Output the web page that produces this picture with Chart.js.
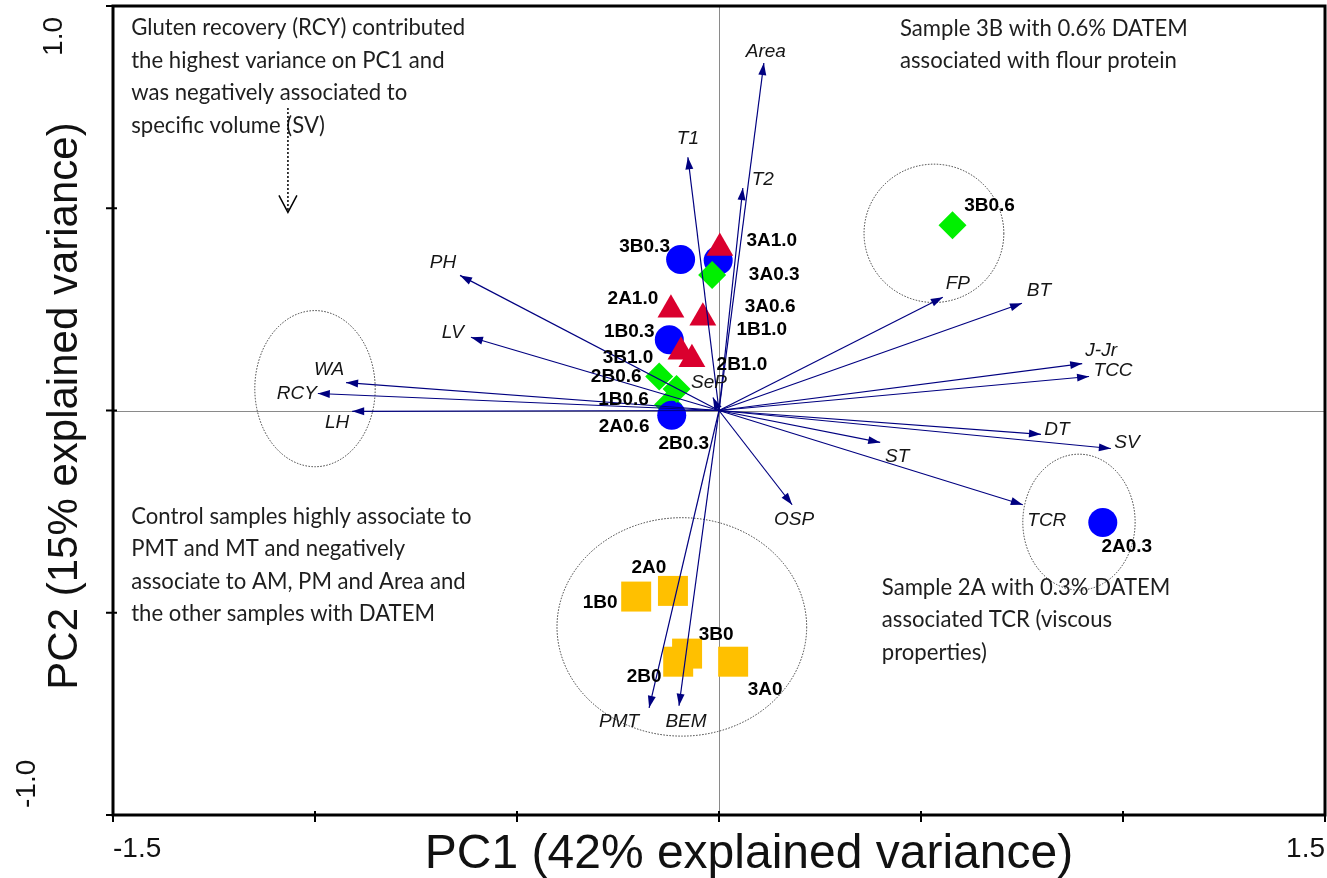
<!DOCTYPE html>
<html>
<head>
<meta charset="utf-8">
<title>PCA biplot – DATEM samples</title>
<style>
  html, body { margin: 0; padding: 0; background: #fff; }
  #wrap { width: 1327px; height: 878px; }
  canvas { display: block; }
</style>
<script src="https://cdn.jsdelivr.net/npm/chart.js@4.4.1/dist/chart.umd.min.js"></script>
</head>
<body>
<div id="wrap"><canvas id="biplot" width="1327" height="878"></canvas></div>
<script>
// ---------- Sample scores (PC1, PC2), one set per DATEM level ----------
const ctrlSamples = ['1B0', '2A0', '3B0', '2B0', '3A0'];
const ctrlPC1 = [-0.205, -0.114, -0.079, -0.101, 0.035];
const ctrlPC2 = [-0.460, -0.446, -0.601, -0.621, -0.621];

const datem03Samples = ['1B0.3', '2A0.3', '2B0.3', '3A0.3', '3B0.3'];
const datem03PC1 = [-0.123, 0.950, -0.117, -0.002, -0.095];
const datem03PC2 = [0.175, -0.277, -0.012, 0.371, 0.373];

const datem06Samples = ['1B0.6', '2A0.6', '2B0.6', '3A0.6', '3B0.6'];
const datem06PC1 = [-0.105, -0.126, -0.148, -0.017, 0.578];
const datem06PC2 = [0.053, 0.015, 0.084, 0.335, 0.458];

const datem10Samples = ['1B1.0', '2A1.0', '2B1.0', '3A1.0', '3B1.0'];
const datem10PC1 = [-0.040, -0.119, -0.067, 0.002, -0.094];
const datem10PC2 = [0.229, 0.249, 0.127, 0.402, 0.145];

// ---------- Variable loadings ----------
const variables = ['Area', 'T1', 'T2', 'PH', 'LV', 'WA', 'RCY', 'LH', 'SeP', 'FP',
                   'BT', 'J-Jr', 'TCC', 'DT', 'SV', 'ST', 'OSP', 'TCR', 'PMT', 'BEM'];
const loadPC1 = [0.111, -0.077, 0.059, -0.641, -0.614, -0.923, -0.993, -0.908, -0.015, 0.554,
                 0.750, 0.899, 0.916, 0.797, 0.970, 0.399, 0.181, 0.752, -0.173, -0.099];
const loadPC2 = [0.859, 0.626, 0.550, 0.334, 0.181, 0.069, 0.042, -0.002, 0.032, 0.280,
                 0.265, 0.116, 0.084, -0.059, -0.094, -0.079, -0.233, -0.233, -0.735, -0.730];

// ---------- Axes ----------
const xTicks = [-1.5, -1.0, -0.5, 0, 0.5, 1.0, 1.5];
const yTicks = [-1.0, -0.5, 0, 0.5, 1.0];
const xEndLabels = ['-1.5', '1.5'];
const yEndLabels = ['-1.0', '1.0'];
const xTitle = 'PC1 (42% explained variance)';
const yTitle = 'PC2 (15% explained variance)';

// ---------- Cluster outlines: centre and radii in score units ----------
const clusterCx = [-1.000, -0.092, 0.532, 0.891];
const clusterCy = [0.054, -0.535, 0.438, -0.276];
const clusterRx = [0.149, 0.309, 0.173, 0.139];
const clusterRy = [0.193, 0.270, 0.171, 0.168];

// ---------- Annotation texts ----------
const notes = [
  { x: -1.455, y: 0.928, lines: ['Gluten recovery (RCY) contributed', 'the highest variance on PC1 and',
                                 'was negatively associated to', 'specific volume (SV)'] },
  { x: 0.448, y: 0.926, lines: ['Sample 3B with 0.6% DATEM', 'associated with flour protein'] },
  { x: -1.455, y: -0.280, lines: ['Control samples highly associate to', 'PMT and MT and negatively',
                                  'associate to AM, PM and Area and', 'the other samples with DATEM'] },
  { x: 0.403, y: -0.455, lines: ['Sample 2A with 0.3% DATEM', 'associated TCR (viscous', 'properties)'] }
];

// ---------- Label placement (pixel offsets from the mark) ----------
const sampleLabelOffset = {
  '3B0.3': [-36, -14], '3A0.3': [56, 13], '3A1.0': [52, -9], '3A0.6': [58, 30], '1B1.0': [59, 10],
  '2B1.0': [50, 4], '2A1.0': [-38, -13], '1B0.3': [-40, -10], '3B1.0': [-53, 4], '2B0.6': [-43, -1],
  '1B0.6': [-53, 9], '2A0.6': [-44, 21], '2B0.3': [12, 27], '3B0.6': [37, -21], '2A0.3': [24, 23],
  '2A0': [-24, -25], '1B0': [-36, 5], '3B0': [29, -20], '2B0': [-34, 13], '3A0': [32, 26]
};
const varLabelOffset = {
  'Area': [2, -13], 'T1': [0, -20], 'T2': [20, -10], 'PH': [-17, -14], 'LV': [-18, -6],
  'WA': [-17, -14], 'RCY': [-21, -1], 'LH': [-15, 10], 'SeP': [-4, -16], 'FP': [15, -15],
  'BT': [17, -14], 'J-Jr': [19, -14], 'TCC': [24, -7], 'DT': [16, -6], 'SV': [16, -7],
  'ST': [17, 13], 'OSP': [2, 13], 'TCR': [24, 14], 'PMT': [-30, 12], 'BEM': [7, 14]
};

// marker symbol per DATEM level
const groups = [
  { names: ctrlSamples,    pc1: ctrlPC1,    pc2: ctrlPC2,    style: 'rect',     radius: 21.2, color: '#FFC000' },
  { names: datem03Samples, pc1: datem03PC1, pc2: datem03PC2, style: 'circle',   radius: 14.5, color: '#0000FF' },
  { names: datem06Samples, pc1: datem06PC1, pc2: datem06PC2, style: 'rectRot',  radius: 14,   color: '#00F000' },
  { names: datem10Samples, pc1: datem10PC1, pc2: datem10PC2, style: 'triangle', radius: 15.5, color: '#DA002E' }
];
// plotting sequence of the samples (later ones sit on top)
const plotSequence = ['1B0', '2A0', '2B0', '3B0', '3A0', '2A0.6',
                      '1B0.3', '2A0.3', '2B0.3', '3A0.3', '3B0.3',
                      '1B0.6', '2B0.6', '3A0.6', '3B0.6',
                      '1B1.0', '2A1.0', '2B1.0', '3A1.0', '3B1.0'];

const NAVY = '#000080';
const SANS = '"Liberation Sans", Arial, Helvetica, sans-serif';
const NOTE_FAMILY = 'Lato, "Open Sans", sans-serif';

// one marker record per sample, taken from its group arrays
const markerBySample = {};
groups.forEach(g => g.names.forEach((n, i) => {
  markerBySample[n] = { x: g.pc1[i], y: g.pc2[i], style: g.style, radius: g.radius, color: g.color };
}));
const markers = plotSequence.map(n => markerBySample[n]);

// loading vectors: one line from the origin to each loading
const vectorSets = variables.map((name, i) => ({
  label: name,
  data: [{ x: 0, y: 0 }, { x: loadPC1[i], y: loadPC2[i] }],
  showLine: true,
  borderColor: NAVY,
  borderWidth: 1.2,
  pointRadius: 0,
  order: 0
}));

const sampleSet = {
  label: 'Samples',
  data: markers.map(m => ({ x: m.x, y: m.y })),
  pointStyle: markers.map(m => m.style),
  pointRadius: markers.map(m => m.radius),
  pointHoverRadius: markers.map(m => m.radius),
  backgroundColor: markers.map(m => m.color),
  borderWidth: 0,
  showLine: false,
  order: 1
};

// text with its cap-height centred on (x, y)
function centredText(ctx, text, x, y, size) {
  ctx.fillText(text, x, y + size * 0.36);
}

const biplotDecor = {
  id: 'biplotDecor',
  beforeDatasetsDraw(chart) {
    const { ctx, chartArea: a, scales: { x, y } } = chart;
    ctx.save();
    // zero reference lines
    const x0 = Math.round(x.getPixelForValue(0)) + 0.5;
    const y0 = Math.round(y.getPixelForValue(0)) + 0.5;
    ctx.strokeStyle = '#8a8a8a';
    ctx.lineWidth = 1;
    ctx.beginPath();
    ctx.moveTo(x0, a.top); ctx.lineTo(x0, a.bottom);
    ctx.moveTo(a.left, y0); ctx.lineTo(a.right, y0);
    ctx.stroke();
    // dotted cluster outlines
    ctx.strokeStyle = '#3a3a3a';
    ctx.lineWidth = 1;
    ctx.setLineDash([1.5, 1.5]);
    clusterCx.forEach((cx, i) => {
      const px = x.getPixelForValue(cx), py = y.getPixelForValue(clusterCy[i]);
      const rx = Math.abs(x.getPixelForValue(cx + clusterRx[i]) - px);
      const ry = Math.abs(y.getPixelForValue(clusterCy[i] + clusterRy[i]) - py);
      ctx.beginPath();
      ctx.ellipse(px, py, rx, ry, 0, 0, Math.PI * 2);
      ctx.stroke();
    });
    ctx.restore();
  },
  afterDatasetsDraw(chart) {
    const { ctx, scales: { x, y } } = chart;
    ctx.save();
    const ox = x.getPixelForValue(0), oy = y.getPixelForValue(0);
    // arrow heads and variable names
    variables.forEach((name, i) => {
      const tx = x.getPixelForValue(loadPC1[i]), ty = y.getPixelForValue(loadPC2[i]);
      const ang = Math.atan2(ty - oy, tx - ox);
      const len = 12, half = 4;
      const bx = tx - Math.cos(ang) * len, by = ty - Math.sin(ang) * len;
      ctx.fillStyle = NAVY;
      ctx.beginPath();
      ctx.moveTo(tx, ty);
      ctx.lineTo(bx + Math.sin(ang) * half, by - Math.cos(ang) * half);
      ctx.lineTo(bx - Math.sin(ang) * half, by + Math.cos(ang) * half);
      ctx.closePath();
      ctx.fill();
      const off = varLabelOffset[name];
      ctx.fillStyle = '#151515';
      ctx.font = 'italic 19px ' + SANS;
      ctx.textAlign = 'center';
      centredText(ctx, name, tx + off[0], ty + off[1], 19);
    });
    // sample names
    ctx.font = 'bold 19px ' + SANS;
    ctx.fillStyle = '#000';
    ctx.textAlign = 'center';
    const meta = chart.getDatasetMeta(vectorSets.length);
    meta.data.forEach((pt, j) => {
      const name = plotSequence[j];
      const off = sampleLabelOffset[name];
      centredText(ctx, name, pt.x + off[0], pt.y + off[1], 19);
    });
    // annotation notes
    ctx.fillStyle = '#1e1e1e';
    ctx.textAlign = 'left';
    ctx.font = '20px ' + NOTE_FAMILY;
    const fitSize = 20 * 334 / ctx.measureText(notes[0].lines[0]).width;
    ctx.font = fitSize.toFixed(2) + 'px ' + NOTE_FAMILY;
    notes.forEach(n => {
      const nx = x.getPixelForValue(n.x), ny = y.getPixelForValue(n.y);
      n.lines.forEach((line, k) => ctx.fillText(line, nx, ny + k * 32.5));
    });
    // dotted pointer below the first note
    const ax = x.getPixelForValue(-1.067);
    const ay1 = y.getPixelForValue(0.748), ay2 = y.getPixelForValue(0.490);
    ctx.strokeStyle = '#000';
    ctx.lineWidth = 1.5;
    ctx.setLineDash([2, 2]);
    ctx.beginPath(); ctx.moveTo(ax, ay1); ctx.lineTo(ax, ay2 - 1); ctx.stroke();
    ctx.setLineDash([]);
    ctx.beginPath();
    ctx.moveTo(ax - 9, ay2 - 17); ctx.lineTo(ax, ay2); ctx.lineTo(ax + 9, ay2 - 17);
    ctx.stroke();
    ctx.restore();
  },
  afterDraw(chart) {
    const { ctx, chartArea: a, scales: { x, y } } = chart;
    ctx.save();
    // frame
    ctx.strokeStyle = '#000';
    ctx.lineWidth = 3;
    ctx.strokeRect(a.left, a.top, a.right - a.left, a.bottom - a.top);
    // tick marks crossing the left and bottom axes
    ctx.lineWidth = 2;
    ctx.beginPath();
    xTicks.forEach(v => {
      const px = x.getPixelForValue(v);
      ctx.moveTo(px, a.bottom - 4); ctx.lineTo(px, a.bottom + 7);
    });
    yTicks.forEach(v => {
      const py = y.getPixelForValue(v);
      ctx.moveTo(a.left - 7, py); ctx.lineTo(a.left + 4, py);
    });
    ctx.stroke();
    // end tick labels
    ctx.fillStyle = '#111';
    ctx.font = '28px ' + SANS;
    ctx.textBaseline = 'alphabetic';
    ctx.textAlign = 'left';
    ctx.fillText(xEndLabels[0], x.getPixelForValue(-1.5), 857);
    ctx.textAlign = 'right';
    ctx.fillText(xEndLabels[1], x.getPixelForValue(1.5), 857);
    const vText = (text, px, py, align, font) => {
      ctx.save();
      ctx.translate(px, py);
      ctx.rotate(-Math.PI / 2);
      ctx.font = font;
      ctx.textAlign = align;
      ctx.fillText(text, 0, 0);
      ctx.restore();
    };
    vText(yEndLabels[0], 35, y.getPixelForValue(-1.0) - 7, 'left', '28px ' + SANS);
    vText(yEndLabels[1], 62, y.getPixelForValue(1.0) + 11, 'right', '28px ' + SANS);
    // axis titles
    ctx.font = '48px ' + SANS;
    ctx.textAlign = 'center';
    ctx.fillText(xTitle, 749, 868);
    vText(yTitle, 77, 406, 'center', '42px ' + SANS);
    ctx.restore();
  }
};

new Chart(document.getElementById('biplot'), {
  type: 'scatter',
  data: { datasets: [...vectorSets, sampleSet] },
  options: {
    responsive: false,
    animation: false,
    events: [],
    layout: { autoPadding: false, padding: { left: 113, right: 2, top: 6, bottom: 63 } },
    plugins: { legend: { display: false }, tooltip: { enabled: false } },
    scales: {
      x: { type: 'linear', min: -1.5, max: 1.5, display: false },
      y: { type: 'linear', min: -1.0, max: 1.0, display: false }
    }
  },
  plugins: [biplotDecor]
});
</script>
</body>
</html>
